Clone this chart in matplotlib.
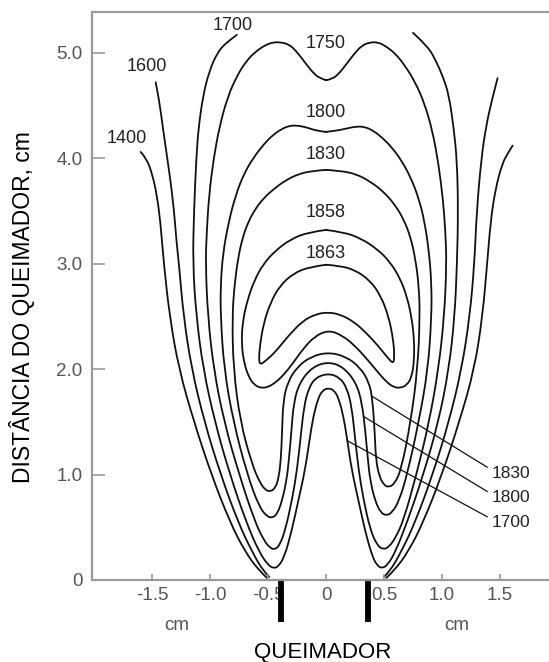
import matplotlib
matplotlib.use('Agg')
import matplotlib.pyplot as plt
from matplotlib.path import Path
from matplotlib.patches import PathPatch
import numpy as np

plt.rcParams['font.family'] = ['Liberation Sans', 'DejaVu Sans']

# ---------------- data ----------------
x_ticks = [-1.5, -1.0, -0.5, 0, 0.5, 1.0, 1.5]
x_tick_labels = ['-1.5', '-1.0', '-0.5', '0', '0.5', '1.0', '1.5']
y_ticks = [0, 1, 2, 3, 4, 5]
y_tick_labels = ['0', '1.0', '2.0', '3.0', '4.0', '5.0']

iso_1400_left = [(-1.60, 4.06), (-1.55, 4.00), (-1.50, 3.85), (-1.46, 3.65), (-1.43, 3.40),
                 (-1.40, 3.00), (-1.35, 2.50), (-1.27, 2.00), (-1.14, 1.50), (-0.99, 1.00),
                 (-0.83, 0.55), (-0.70, 0.27), (-0.58, 0.09), (-0.51, 0.02)]
iso_1400_right = [(0.52, 0.02), (0.59, 0.09), (0.71, 0.27), (0.84, 0.55), (1.00, 1.00),
                  (1.15, 1.50), (1.28, 2.00), (1.35, 2.50), (1.39, 3.00), (1.42, 3.40),
                  (1.46, 3.70), (1.52, 3.95), (1.57, 4.05), (1.61, 4.12)]
iso_1600_left = [(-1.47, 4.72), (-1.44, 4.55), (-1.41, 4.30), (-1.37, 4.00), (-1.32, 3.60),
                 (-1.29, 3.20), (-1.27, 3.00), (-1.23, 2.50), (-1.16, 2.00), (-1.05, 1.50),
                 (-0.91, 1.00), (-0.76, 0.55), (-0.64, 0.27), (-0.54, 0.08), (-0.49, 0.03)]
iso_1600_right = [(0.50, 0.03), (0.55, 0.08), (0.65, 0.27), (0.77, 0.55), (0.92, 1.00),
                  (1.06, 1.50), (1.17, 2.00), (1.24, 2.50), (1.28, 3.00), (1.30, 3.50),
                  (1.34, 4.00), (1.38, 4.30), (1.43, 4.55), (1.48, 4.76)]
iso_1700 = [(-0.77, 5.17), (-0.86, 5.10), (-0.94, 5.00), (-1.01, 4.82), (-1.06, 4.60),
            (-1.10, 4.30), (-1.12, 4.00), (-1.14, 3.50), (-1.15, 3.00), (-1.12, 2.50),
            (-1.06, 2.00), (-0.96, 1.50), (-0.83, 1.00), (-0.69, 0.55), (-0.58, 0.27),
            (-0.50, 0.14), (-0.45, 0.11), (-0.41, 0.13), (-0.36, 0.22), (-0.30, 0.45),
            (-0.24, 0.75), (-0.18, 1.05), (-0.14, 1.35), (-0.11, 1.55), (-0.07, 1.72),
            (-0.03, 1.80), (0.02, 1.82), (0.07, 1.80), (0.11, 1.72), (0.15, 1.55),
            (0.18, 1.35), (0.22, 1.05), (0.28, 0.75), (0.34, 0.45), (0.40, 0.22),
            (0.44, 0.14), (0.48, 0.11), (0.53, 0.14), (0.60, 0.27), (0.70, 0.55),
            (0.84, 1.00), (0.97, 1.50), (1.06, 2.00), (1.11, 2.50), (1.13, 3.00),
            (1.14, 3.50), (1.13, 3.98), (1.10, 4.30), (1.06, 4.60), (1.01, 4.77),
            (0.95, 4.92), (0.88, 5.06), (0.75, 5.19)]
iso_1750 = [(0.00, 4.74), (-0.06, 4.76), (-0.12, 4.82), (-0.19, 4.92), (-0.26, 5.02),
            (-0.32, 5.08), (-0.39, 5.10), (-0.46, 5.10), (-0.53, 5.07), (-0.61, 5.01),
            (-0.69, 4.92), (-0.77, 4.78), (-0.85, 4.58), (-0.92, 4.30), (-0.97, 4.00),
            (-1.01, 3.65), (-1.03, 3.30), (-1.04, 3.00), (-1.02, 2.50), (-0.97, 2.00),
            (-0.88, 1.50), (-0.75, 1.00), (-0.62, 0.57), (-0.54, 0.38), (-0.48, 0.30),
            (-0.44, 0.29), (-0.40, 0.33), (-0.35, 0.48), (-0.29, 0.78), (-0.25, 1.05),
            (-0.22, 1.35), (-0.19, 1.65), (-0.15, 1.82), (-0.09, 1.92), (0.02, 1.96),
            (0.12, 1.92), (0.18, 1.82), (0.22, 1.65), (0.25, 1.35), (0.28, 1.05),
            (0.32, 0.78), (0.38, 0.48), (0.44, 0.33), (0.49, 0.29), (0.54, 0.31),
            (0.60, 0.40), (0.67, 0.57), (0.78, 1.00), (0.89, 1.50), (0.97, 2.00),
            (1.02, 2.50), (1.04, 3.00), (1.03, 3.30), (1.01, 3.60), (0.97, 3.95),
            (0.92, 4.25), (0.85, 4.52), (0.77, 4.72), (0.68, 4.88), (0.60, 4.99),
            (0.52, 5.06), (0.45, 5.10), (0.38, 5.10), (0.31, 5.07), (0.25, 5.00),
            (0.18, 4.90), (0.11, 4.80), (0.05, 4.75), (0.00, 4.74)]
iso_1800 = [(0.00, 4.25), (-0.08, 4.26), (-0.16, 4.29), (-0.24, 4.31), (-0.31, 4.31),
            (-0.38, 4.28), (-0.46, 4.22), (-0.54, 4.13), (-0.63, 4.00), (-0.71, 3.85),
            (-0.78, 3.65), (-0.84, 3.40), (-0.89, 3.10), (-0.91, 2.80), (-0.91, 2.50),
            (-0.88, 2.00), (-0.80, 1.50), (-0.68, 1.00), (-0.58, 0.70), (-0.51, 0.60),
            (-0.46, 0.59), (-0.42, 0.63), (-0.38, 0.75), (-0.34, 0.95), (-0.32, 1.15),
            (-0.30, 1.40), (-0.28, 1.68), (-0.23, 1.87), (-0.12, 2.02), (0.02, 2.07),
            (0.15, 2.02), (0.26, 1.87), (0.31, 1.68), (0.34, 1.40), (0.36, 1.15),
            (0.38, 0.95), (0.42, 0.76), (0.47, 0.64), (0.52, 0.61), (0.57, 0.64),
            (0.63, 0.75), (0.70, 1.00), (0.80, 1.50), (0.88, 2.00), (0.91, 2.50),
            (0.91, 2.80), (0.89, 3.10), (0.85, 3.40), (0.80, 3.62), (0.73, 3.82),
            (0.65, 3.98), (0.57, 4.10), (0.49, 4.19), (0.41, 4.26), (0.33, 4.30),
            (0.25, 4.30), (0.17, 4.28), (0.08, 4.26), (0.00, 4.25)]
iso_1830 = [(0.00, 3.89), (-0.12, 3.88), (-0.24, 3.85), (-0.35, 3.79), (-0.45, 3.71),
            (-0.54, 3.62), (-0.61, 3.52), (-0.67, 3.40), (-0.72, 3.25), (-0.76, 3.05),
            (-0.79, 2.80), (-0.81, 2.50), (-0.80, 2.00), (-0.74, 1.50), (-0.64, 1.10),
            (-0.57, 0.92), (-0.52, 0.85), (-0.48, 0.84), (-0.44, 0.87), (-0.41, 0.96),
            (-0.39, 1.14), (-0.38, 1.40), (-0.37, 1.70), (-0.33, 1.88), (-0.25, 2.02),
            (-0.13, 2.12), (0.02, 2.16), (0.17, 2.12), (0.29, 2.02), (0.37, 1.88),
            (0.40, 1.72), (0.42, 1.40), (0.43, 1.14), (0.46, 0.98), (0.50, 0.90),
            (0.54, 0.88), (0.59, 0.91), (0.65, 1.05), (0.73, 1.50), (0.79, 2.00),
            (0.81, 2.50), (0.80, 2.80), (0.77, 3.05), (0.73, 3.25), (0.67, 3.42),
            (0.60, 3.55), (0.50, 3.68), (0.38, 3.78), (0.26, 3.85), (0.13, 3.88),
            (0.00, 3.89)]
iso_1858 = [(0.00, 3.32), (-0.15, 3.30), (-0.31, 3.23), (-0.44, 3.12), (-0.54, 3.00),
            (-0.62, 2.84), (-0.68, 2.65), (-0.72, 2.45), (-0.73, 2.25), (-0.71, 2.07),
            (-0.67, 1.93), (-0.62, 1.85), (-0.56, 1.82), (-0.50, 1.83), (-0.44, 1.87),
            (-0.37, 1.94), (-0.29, 2.05), (-0.20, 2.19), (-0.10, 2.31), (0.02, 2.37),
            (0.14, 2.32), (0.25, 2.22), (0.35, 2.10), (0.44, 1.98), (0.52, 1.88),
            (0.58, 1.83), (0.64, 1.82), (0.70, 1.85), (0.74, 1.93), (0.76, 2.08),
            (0.76, 2.28), (0.74, 2.48), (0.70, 2.68), (0.64, 2.86), (0.55, 3.02),
            (0.44, 3.14), (0.30, 3.24), (0.15, 3.30), (0.00, 3.32)]
iso_1863 = [(0.00, 2.99), (-0.14, 2.97), (-0.28, 2.91), (-0.40, 2.79), (-0.48, 2.63),
            (-0.54, 2.43), (-0.57, 2.23), (-0.58, 2.10), (-0.57, 2.04), (-0.52, 2.08),
            (-0.44, 2.16), (-0.33, 2.31), (-0.20, 2.46), (-0.09, 2.52), (0.01, 2.54),
            (0.12, 2.52), (0.24, 2.45), (0.35, 2.34), (0.45, 2.22), (0.53, 2.11),
            (0.58, 2.05), (0.59, 2.12), (0.58, 2.28), (0.54, 2.50), (0.47, 2.70),
            (0.38, 2.84), (0.25, 2.94), (0.12, 2.98), (0.00, 2.99)]

isotherms = [iso_1400_left, iso_1400_right, iso_1600_left, iso_1600_right,
             iso_1700, iso_1750, iso_1800, iso_1830, iso_1858, iso_1863]

label_texts = ['1400', '1600', '1700', '1750', '1800', '1830', '1858', '1863']
label_x = [-1.72, -1.55, -0.81, 0.0, 0.0, 0.0, 0.0, 0.0]
label_y = [4.19, 4.87, 5.26, 5.09, 4.43, 4.04, 3.49, 3.10]

leader_texts = ['1830', '1800', '1700']
leader_start_x = [0.40, 0.325, 0.185]
leader_start_y = [1.74, 1.55, 1.32]
leader_end_x = [1.39, 1.39, 1.39]
leader_end_y = [1.07, 0.84, 0.60]
leader_label_x = [1.43, 1.43, 1.43]
leader_label_y = [1.01, 0.78, 0.55]

burner_walls = [-0.39, 0.36]
burner_depth = -0.40


def smooth_path(points):
    p = np.asarray(points, dtype=float)
    verts = [p[0]]
    codes = [Path.MOVETO]
    for i in range(1, len(p) - 1):
        end = p[i + 1] if i == len(p) - 2 else (p[i] + p[i + 1]) / 2
        verts += [p[i], end]
        codes += [Path.CURVE3, Path.CURVE3]
    return Path(verts, codes)


# ---------------- figure ----------------
W, H = 549, 662
fig = plt.figure(figsize=(W / 100, H / 100), dpi=100)
left_px, right_px, bottom_px, top_px = 92, 581, 580, 11.7
ax = fig.add_axes([left_px / W, (H - bottom_px) / H,
                   (right_px - left_px) / W, (bottom_px - top_px) / H])
ax.set_xlim(-2.02, 2.2)
ax.set_ylim(0, 5.39)

for c in isotherms:
    ax.add_patch(PathPatch(smooth_path(c), facecolor='none', edgecolor='#111111',
                           lw=1.3, joinstyle='round', capstyle='round'))

for t, x, y in zip(label_texts, label_x, label_y):
    ax.text(x, y, t, ha='center', va='center', fontsize=13, color='#222222')

for t, sx, sy, ex, ey, lx, ly in zip(leader_texts, leader_start_x, leader_start_y,
                                     leader_end_x, leader_end_y,
                                     leader_label_x, leader_label_y):
    ax.plot([sx, ex], [sy, ey], color='#111111', lw=0.9)
    ax.text(lx, ly, t, ha='left', va='center', fontsize=12.5, color='#222222')

for bx in burner_walls:
    ax.plot([bx, bx], [0, burner_depth], color='black', lw=4.2,
            solid_capstyle='butt', clip_on=False)

ax.set_xticks(x_ticks)
ax.set_xticklabels(x_tick_labels)
ax.set_yticks(y_ticks)
ax.set_yticklabels(y_tick_labels)
ax.tick_params(axis='x', direction='in', length=4, width=1.2, colors='#999999',
               labelcolor='#555555', labelsize=13.5, pad=5)
ax.tick_params(axis='y', direction='in', length=9, width=1.2, colors='#999999',
               labelcolor='#555555', labelsize=13.5, pad=7)
for s in ['left', 'bottom', 'top', 'right']:
    ax.spines[s].set_color('#999999')
    ax.spines[s].set_linewidth(1.6)

ax.text(-1.29, -0.43, 'cm', ha='center', va='center', fontsize=13.5,
        color='#555555', clip_on=False)
ax.text(1.13, -0.43, 'cm', ha='center', va='center', fontsize=13.5,
        color='#555555', clip_on=False)
ax.text(-0.03, -0.69, 'QUEIMADOR', ha='center', va='center', fontsize=16,
        color='black', clip_on=False)
fig.text(22 / W, 1 - 307 / H, 'DISTÂNCIA DO QUEIMADOR, cm', rotation=90,
         ha='center', va='center', fontsize=16.5, color='black')

fig.savefig('out.png', dpi=100)
